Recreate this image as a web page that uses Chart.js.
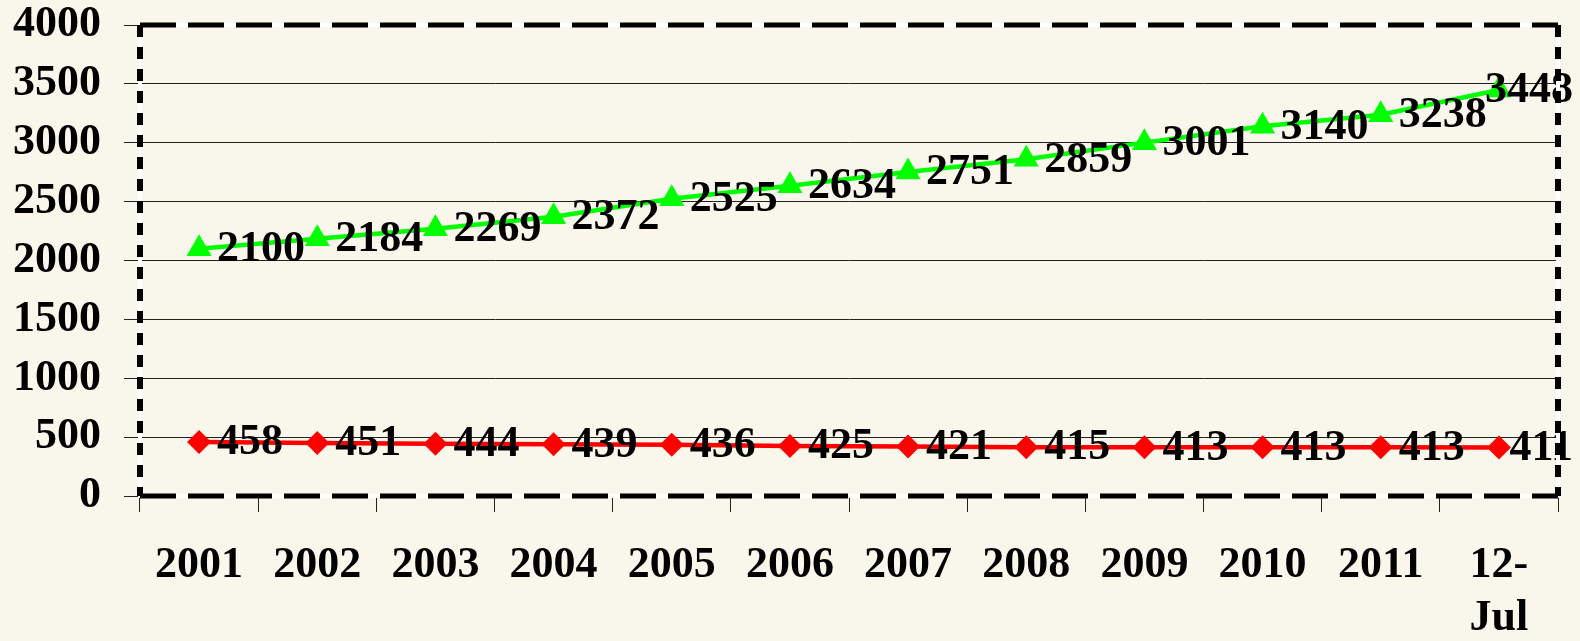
<!DOCTYPE html>
<html lang="en">
<head>
<meta charset="UTF-8">
<title>Line chart 2001 - Jul 2012</title>
<script src="https://cdn.jsdelivr.net/npm/chart.js"></script>
<style>
  html, body {
    margin: 0;
    padding: 0;
    background: #f9f7eb;
  }
  #wrap {
    width: 1580px;
    height: 641px;
    position: relative;
  }
</style>
</head>
<body>
<div id="wrap">
  <canvas id="lineChart"></canvas>
</div>
<script>
  // data
  const years = ['2001', '2002', '2003', '2004', '2005', '2006', '2007', '2008', '2009', '2010', '2011', ['12-', 'Jul']];
  const greenValues = [2100, 2184, 2269, 2372, 2525, 2634, 2751, 2859, 3001, 3140, 3238, 3448];
  const redValues = [458, 451, 444, 439, 436, 425, 421, 415, 413, 413, 413, 411];
  const yTicks = [0, 500, 1000, 1500, 2000, 2500, 3000, 3500, 4000];

  const bigFont = { family: '"Liberation Serif", "Times New Roman", serif', size: 44, weight: 'bold' };

  // value labels to the right of each point
  const valueLabels = {
    id: 'valueLabels',
    afterDatasetsDraw(chart) {
      const ctx = chart.ctx;
      ctx.save();
      ctx.font = 'bold 44px "Liberation Serif", "Times New Roman", serif';
      ctx.fillStyle = '#000';
      ctx.textBaseline = 'middle';
      ctx.textAlign = 'left';
      chart.data.datasets.forEach((ds, i) => {
        const meta = chart.getDatasetMeta(i);
        meta.data.forEach((pt, j) => {
          const txt = String(ds.data[j]);
          const w = ctx.measureText(txt).width;
          const x = Math.min(pt.x + 18, chart.width - 7 - w);
          ctx.fillText(txt, x, pt.y + 1);
        });
      });
      ctx.restore();
    }
  };

  // dashed frame round the plot area
  const dashedFrame = {
    id: 'dashedFrame',
    afterDraw(chart) {
      const a = chart.chartArea;
      const ctx = chart.ctx;
      ctx.save();
      ctx.lineWidth = 4;
      ctx.strokeStyle = '#ffffff';
      ctx.strokeRect(a.left, a.top, a.right - a.left, a.bottom - a.top);
      ctx.strokeStyle = '#000';
      ctx.lineWidth = 5;
      ctx.setLineDash([36, 12]);
      ctx.beginPath();
      ctx.moveTo(a.left, a.top);
      ctx.lineTo(a.right, a.top);
      ctx.moveTo(a.left, a.bottom);
      ctx.lineTo(a.right, a.bottom);
      ctx.stroke();
      ctx.setLineDash([12, 10]);
      ctx.lineWidth = 6;
      ctx.beginPath();
      ctx.moveTo(a.left, a.top);
      ctx.lineTo(a.left, a.bottom);
      ctx.moveTo(a.right, a.top);
      ctx.lineTo(a.right, a.bottom);
      ctx.stroke();
      ctx.restore();
    }
  };

  const ctx = document.getElementById('lineChart').getContext('2d');
  new Chart(ctx, {
    type: 'line',
    data: {
      labels: years,
      datasets: [{
        label: 'Green',
        data: greenValues,
        borderColor: '#00ff00',
        backgroundColor: '#00ff00',
        borderWidth: 4.5,
        pointStyle: 'triangle',
        pointRadius: 14.5,
        pointBorderWidth: 0,
        tension: 0
      }, {
        label: 'Red',
        data: redValues,
        borderColor: '#ff0000',
        backgroundColor: '#ff0000',
        borderWidth: 4.5,
        pointStyle: 'rectRot',
        pointRadius: 12,
        pointBorderWidth: 0,
        tension: 0
      }]
    },
    options: {
      responsive: true,
      maintainAspectRatio: false,
      animation: false,
      layout: { padding: { left: 13, top: 25, right: 22, bottom: 0 } },
      plugins: {
        legend: { display: false },
        tooltip: { enabled: false }
      },
      scales: {
        x: {
          offset: true,
          grid: { offset: true, drawOnChartArea: false, drawTicks: true, tickLength: 16, color: '#222', lineWidth: 1 },
          border: { display: false },
          ticks: { font: bigFont, color: '#000', padding: 27, maxRotation: 0, autoSkip: false },
          afterFit(scale) { scale.height = 145; }
        },
        y: {
          min: 0,
          max: 4000,
          afterBuildTicks(scale) { scale.ticks = yTicks.map(v => ({ value: v })); },
          grid: { color: '#222', lineWidth: 1, tickLength: 16 },
          border: { display: true, color: '#222', width: 1 },
          ticks: { font: { ...bigFont, lineHeight: 1 }, color: '#000', padding: 23, callback: v => String(v) },
          afterFit(scale) {
            scale.width = 127;
            scale.paddingTop = 0;
            scale.paddingBottom = 0;
          }
        }
      }
    },
    plugins: [valueLabels, dashedFrame]
  });
</script>
</body>
</html>
